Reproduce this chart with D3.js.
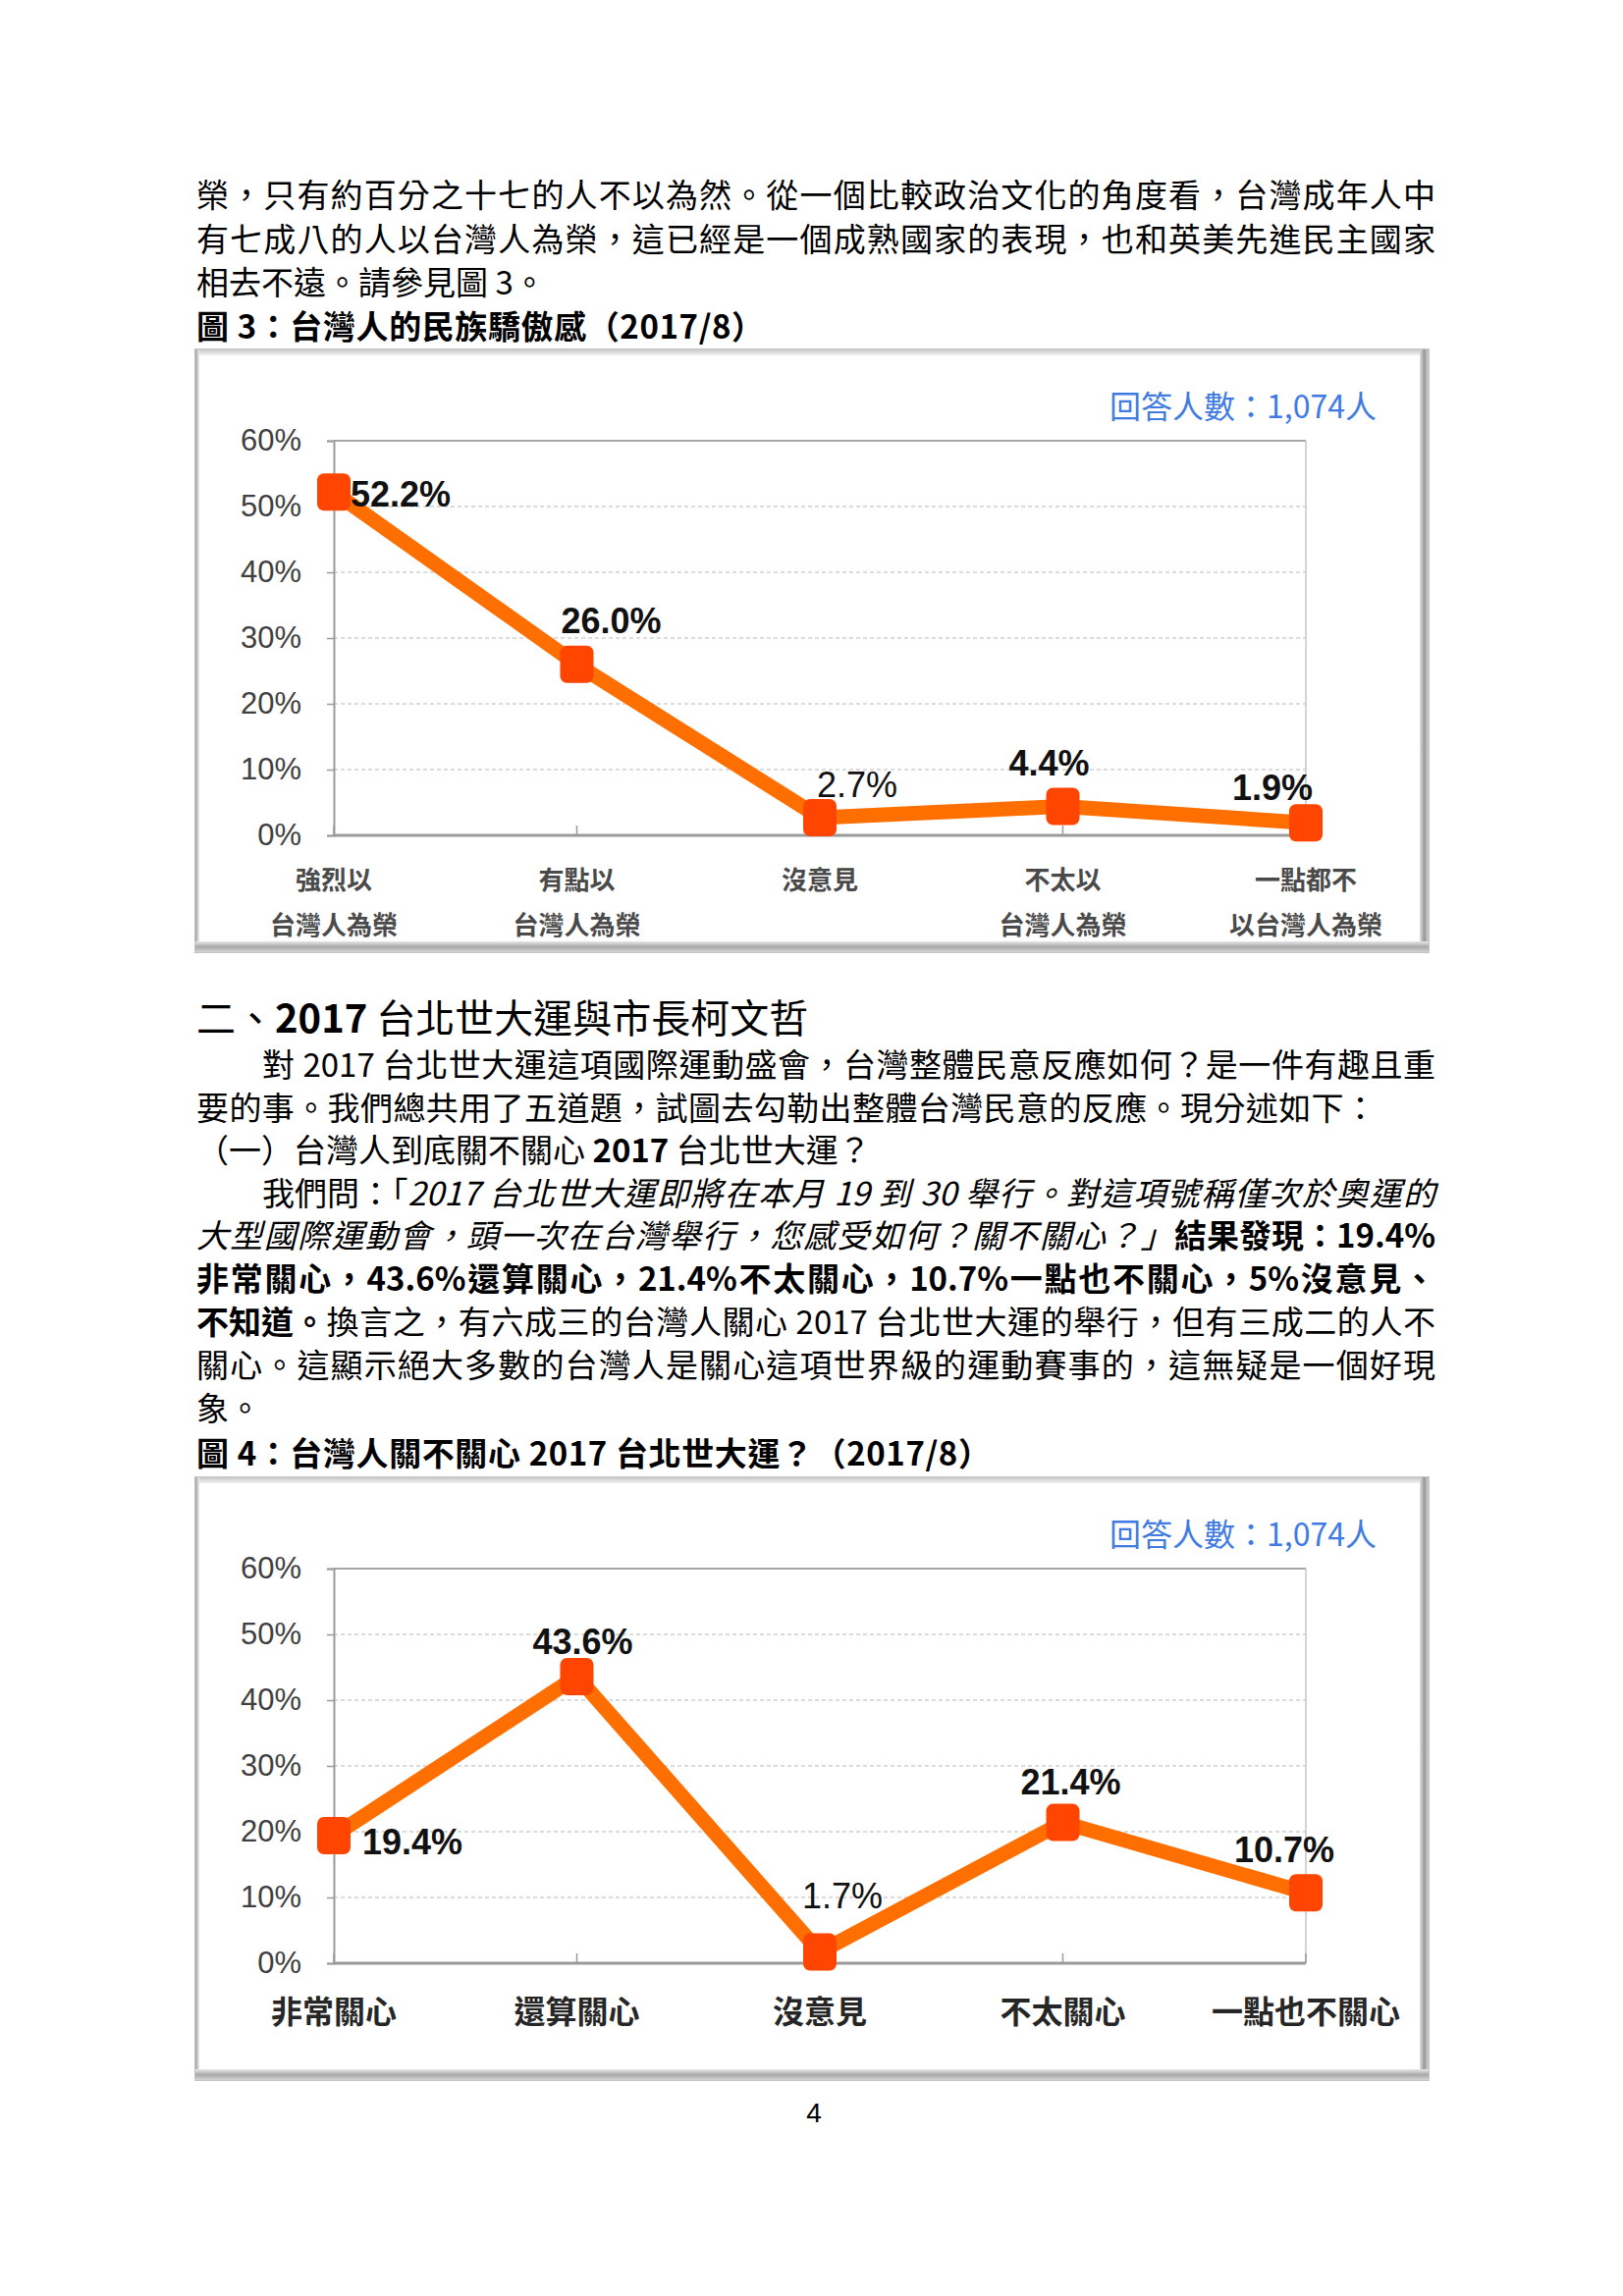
<!DOCTYPE html>
<html><head><meta charset="utf-8">
<script src="https://cdn.jsdelivr.net/npm/d3@7"></script>
<style>
body{margin:0;background:#fff;}
#page{position:relative;width:1653px;height:2339px;overflow:hidden;font-family:"Noto Sans CJK TC","Noto Sans CJK SC",sans-serif;color:#000;background:#fff;}
.ln{position:absolute;left:200px;width:1262px;height:40px;line-height:40px;font-size:33px;}
.ln.ind{left:267px;width:1195px;}
.j{text-align:justify;text-align-last:justify;}
.sp{letter-spacing:0.4px;}
.t{letter-spacing:0.6px;font-weight:700;}
.bd{font-weight:700;}
.it{font-style:italic;}
.h{font-size:40px;height:48px;line-height:48px;}
.ib{display:inline-block;height:40px;line-height:40px;vertical-align:top;}
.h .ib{height:48px;line-height:48px;}
.ib.b{font-weight:700;font-style:normal;}
.ib.n{font-style:normal;}
svg{position:absolute;left:0;top:0;}
</style></head><body><div id="page"></div>
<script>
// ---------- data ----------
const yTicks = [0, 10, 20, 30, 40, 50, 60];
const respondents = "回答人數：1,074人";

const cats1Line1 = ["強烈以", "有點以", "沒意見", "不太以", "一點都不"];
const cats1Line2 = ["台灣人為榮", "台灣人為榮", "", "台灣人為榮", "以台灣人為榮"];
const values1 = [52.2, 26.0, 2.7, 4.4, 1.9];

const cats2 = ["非常關心", "還算關心", "沒意見", "不太關心", "一點也不關心"];
const values2 = [19.4, 43.6, 1.7, 21.4, 10.7];

// ---------- label layout (not data) ----------
const labelLayout1 = [
  {dx: 17, dy: 2, anchor: "start", bold: true},
  {dx: 35, dy: -44, anchor: "middle", bold: true},
  {dx: 38, dy: -33, anchor: "middle", bold: false},
  {dx: -14, dy: -44, anchor: "middle", bold: true},
  {dx: -34, dy: -36, anchor: "middle", bold: true}
];
const labelLayout2 = [
  {dx: 29, dy: 6, anchor: "start", bold: true},
  {dx: 6, dy: -35, anchor: "middle", bold: true},
  {dx: 23, dy: -57, anchor: "middle", bold: false},
  {dx: 8, dy: -41, anchor: "middle", bold: true},
  {dx: -22, dy: -44, anchor: "middle", bold: true}
];

// ---------- body text ----------
const page = d3.select("#page");
const lines = [
  {y: 197, cls: "j", html: "榮，只有約百分之十七的人不以為然。從一個比較政治文化的角度看，台灣成年人中"},
  {y: 242, cls: "j", html: "有七成八的人以台灣人為榮，這已經是一個成熟國家的表現，也和英美先進民主國家"},
  {y: 286, cls: "", html: "相去不遠。請參見圖 3。"},
  {y: 331, cls: "t", html: "圖 3：台灣人的民族驕傲感（2017/8）"},
  {y: 1035, cls: "h", html: "二、<span class='ib b'>2017</span> 台北世大運與市長柯文哲"},
  {y: 1083, cls: "j ind", html: "對 2017 台北世大運這項國際運動盛會，台灣整體民意反應如何？是一件有趣且重"},
  {y: 1127, cls: "sp", html: "要的事。我們總共用了五道題，試圖去勾勒出整體台灣民意的反應。現分述如下："},
  {y: 1170, cls: "", html: "（一）台灣人到底關不關心 <span class='ib b'>2017</span> 台北世大運？"},
  {y: 1214, cls: "j ind it", html: "<span class='ib n'>我們問：「</span>2017 台北世大運即將在本月 19 到 30 舉行。對這項號稱僅次於奧運的"},
  {y: 1257, cls: "j it", html: "大型國際運動會，頭一次在台灣舉行，您感受如何？關不關心？」<span class='ib b'>結果發現：19.4%</span>"},
  {y: 1301, cls: "j bd", html: "非常關心，43.6%還算關心，21.4%不太關心，10.7%一點也不關心，5%沒意見、"},
  {y: 1345, cls: "j", html: "<span class='ib b'>不知道。</span>換言之，有六成三的台灣人關心 2017 台北世大運的舉行，但有三成二的人不"},
  {y: 1389, cls: "j", html: "關心。這顯示絕大多數的台灣人是關心這項世界級的運動賽事的，這無疑是一個好現"},
  {y: 1433, cls: "", html: "象。"},
  {y: 1479, cls: "t", html: "圖 4：台灣人關不關心 2017 台北世大運？（2017/8）"}
];
lines.forEach(l => {
  const h = l.cls.split(" ").includes("h") ? 48 : 40;
  page.append("div").attr("class", "ln " + l.cls)
    .style("top", (l.y - h / 2) + "px").html(l.html);
});

// ---------- charts ----------
const svg = page.append("svg").attr("width", 1653).attr("height", 2339);
const defs = svg.append("defs");
function grad(id, x2, y2, stops) {
  const g = defs.append("linearGradient").attr("id", id)
    .attr("x1", 0).attr("y1", 0).attr("x2", x2).attr("y2", y2);
  stops.forEach(s => g.append("stop").attr("offset", s[0]).attr("stop-color", s[1]));
}
grad("gb", 0, 1, [[0, "#e8e8e8"], [0.5, "#a9a9a9"], [1, "#d4d4d4"]]);
grad("gr", 1, 0, [[0, "#e0e0e0"], [0.5, "#9a9a9a"], [1, "#cfcfcf"]]);
grad("gt", 0, 1, [[0, "#c8c8c8"], [1, "#f2f2f2"]]);
grad("gl", 1, 0, [[0, "#a0a0a0"], [1, "#eeeeee"]]);

const fmt = d3.format(".1f");

function drawChart(top, values, layout, xLabelFn) {
  const fx0 = 199, fx1 = 1455, fy0 = top, fy1 = top + 614;
  const g = svg.append("g");
  // frame
  g.append("rect").attr("x", fx0).attr("y", fy0).attr("width", fx1 - fx0).attr("height", fy1 - fy0)
    .attr("fill", "#fff").attr("stroke", "#c4c4c4").attr("stroke-width", 2);
  g.append("rect").attr("x", fx0).attr("y", fy0).attr("width", fx1 - fx0).attr("height", 6).attr("fill", "url(#gt)");
  g.append("rect").attr("x", fx0).attr("y", fy0).attr("width", 4).attr("height", fy1 - fy0).attr("fill", "url(#gl)");
  g.append("rect").attr("x", fx1 - 9).attr("y", fy0).attr("width", 9).attr("height", fy1 - fy0).attr("fill", "url(#gr)");
  g.append("rect").attr("x", fx0).attr("y", fy1 - 11).attr("width", fx1 - fx0).attr("height", 11).attr("fill", "url(#gb)");

  const x = d3.scalePoint().domain(d3.range(values.length)).range([340, 1330]);
  const y = d3.scaleLinear().domain([0, 60]).range([top + 495, top + 93]);

  // gridlines
  g.append("g").selectAll("line").data(yTicks.filter(t => t > 0 && t < 60)).join("line")
    .attr("x1", 340).attr("x2", 1330).attr("y1", d => y(d)).attr("y2", d => y(d))
    .attr("stroke", "#cfcfcf").attr("stroke-width", 1.5).attr("stroke-dasharray", "4,3");
  // plot borders
  g.append("line").attr("x1", 340).attr("x2", 1330).attr("y1", y(60)).attr("y2", y(60))
    .attr("stroke", "#a6a6a6").attr("stroke-width", 2);
  g.append("line").attr("x1", 1330).attr("x2", 1330).attr("y1", y(60)).attr("y2", y(0))
    .attr("stroke", "#c6c6c6").attr("stroke-width", 1.5);

  // y axis
  const ya = g.append("g").attr("transform", "translate(340,0)")
    .call(d3.axisLeft(y).tickValues(yTicks).tickFormat(d => d + "%").tickSize(7).tickPadding(26));
  ya.select(".domain").attr("stroke", "#9a9a9a").attr("stroke-width", 2);
  ya.selectAll(".tick line").attr("stroke", "#9a9a9a").attr("stroke-width", 1.5);
  ya.selectAll(".tick text").attr("font-family", "Liberation Sans, Arial, sans-serif")
    .attr("font-size", 31).attr("fill", "#404040");

  // x axis
  g.append("line").attr("x1", 340).attr("x2", 1330).attr("y1", y(0)).attr("y2", y(0))
    .attr("stroke", "#9a9a9a").attr("stroke-width", 3);
  g.append("g").selectAll("line").data(d3.range(values.length)).join("line")
    .attr("x1", d => x(d)).attr("x2", d => x(d)).attr("y1", y(0)).attr("y2", y(0) - 10)
    .attr("stroke", "#9a9a9a").attr("stroke-width", 1.5);

  xLabelFn(g, x, y);

  // respondents
  g.append("text").attr("x", 1402).attr("y", top + 56).attr("text-anchor", "end")
    .attr("dominant-baseline", "central").attr("font-size", 32).attr("fill", "#3f7be3")
    .attr("font-family", "Noto Sans CJK TC, sans-serif").text(respondents);

  // line + markers
  const line = d3.line().x((d, i) => x(i)).y(d => y(d));
  g.append("path").datum(values).attr("d", line).attr("fill", "none")
    .attr("stroke", "#ff6f00").attr("stroke-width", 15).attr("stroke-linejoin", "round");
  g.append("g").selectAll("rect").data(values).join("rect")
    .attr("x", (d, i) => x(i) - 17).attr("y", d => y(d) - 19)
    .attr("width", 34).attr("height", 38).attr("rx", 7)
    .attr("fill", "#ff4500");

  // data labels
  g.append("g").selectAll("text").data(values).join("text")
    .attr("x", (d, i) => x(i) + layout[i].dx).attr("y", (d, i) => y(d) + layout[i].dy)
    .attr("text-anchor", (d, i) => layout[i].anchor).attr("dominant-baseline", "central")
    .attr("font-family", "Liberation Sans, Arial, sans-serif").attr("font-size", 36)
    .attr("font-weight", (d, i) => layout[i].bold ? 700 : 400)
    .attr("fill", "#111").text(d => fmt(d) + "%");
}

drawChart(356, values1, labelLayout1, (g, x, y) => {
  const xl = g.append("g").attr("font-family", "Noto Sans CJK TC, sans-serif")
    .attr("font-size", 26).attr("font-weight", 700).attr("fill", "#4a4a4a").attr("text-anchor", "middle");
  xl.selectAll("text.l1").data(cats1Line1).join("text").attr("class", "l1")
    .attr("x", (d, i) => x(i)).attr("y", y(0) + 43).attr("dominant-baseline", "central").text(d => d);
  xl.selectAll("text.l2").data(cats1Line2).join("text").attr("class", "l2")
    .attr("x", (d, i) => x(i)).attr("y", y(0) + 89).attr("dominant-baseline", "central").text(d => d);
});

drawChart(1505, values2, labelLayout2, (g, x, y) => {
  g.append("g").attr("font-family", "Noto Sans CJK TC, sans-serif")
    .attr("font-size", 32).attr("font-weight", 700).attr("fill", "#262626").attr("text-anchor", "middle")
    .selectAll("text").data(cats2).join("text")
    .attr("x", (d, i) => x(i)).attr("y", y(0) + 47).attr("dominant-baseline", "central").text(d => d);
});

// page number
svg.append("text").attr("x", 829).attr("y", 2152).attr("text-anchor", "middle")
  .attr("dominant-baseline", "central").attr("font-family", "Liberation Sans, Arial, sans-serif")
  .attr("font-size", 28).attr("fill", "#000").text("4");
</script>
</body></html>
